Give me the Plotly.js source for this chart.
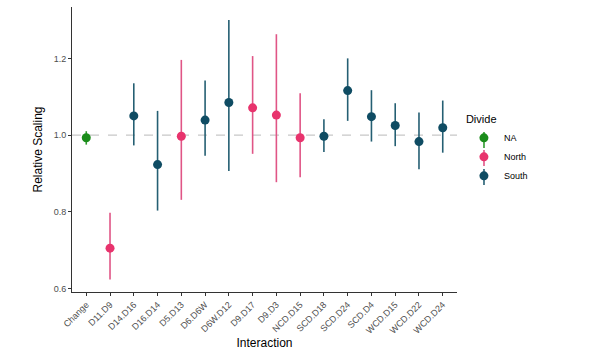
<!DOCTYPE html>
<html>
<head>
<meta charset="utf-8">
<script src="https://cdn.plot.ly/plotly-3.0.1.min.js"></script>
<style>html,body{margin:0;padding:0;background:#fff;}#chart{width:614px;height:350px;}</style>
</head>
<body>
<div id="chart"></div>
<script>
var categories = ["Change","D11.D9","D14.D16","D16.D14","D5.D13","D6.D6W","D6W.D12","D9.D17","D9.D3","NCD.D15","SCD.D18","SCD.D24","SCD.D4","WCD.D15","WCD.D22","WCD.D24"];
var divide = ["NA","North","South","South","North","South","South","North","North","North","South","South","South","South","South","South"];
var estimate = [0.993,0.705,1.050,0.923,0.997,1.039,1.085,1.071,1.052,0.993,0.997,1.116,1.048,1.025,0.983,1.019];
var upper    = [1.010,0.797,1.135,1.063,1.196,1.142,1.300,1.206,1.263,1.109,1.041,1.200,1.117,1.083,1.059,1.090];
var lower    = [0.975,0.623,0.973,0.803,0.831,0.946,0.906,0.951,0.877,0.890,0.956,1.037,0.983,0.971,0.911,0.954];
var groups = ["NA","North","South"];
var colors = {"NA":"#1a8c1a","North":"#e8336d","South":"#0f4c63"};
var barColors = {"NA":"#2e9a2e","North":"#e05586","South":"#255f73"};

var traces = groups.map(function(g){
  var x=[],y=[],ep=[],em=[];
  categories.forEach(function(c,i){
    if(divide[i]===g){x.push(i);y.push(estimate[i]);ep.push(upper[i]-estimate[i]);em.push(estimate[i]-lower[i]);}
  });
  return {
    type:"scatter", mode:"markers", name:g, x:x, y:y,
    marker:{color:colors[g], size:9},
    error_y:{type:"data", symmetric:false, array:ep, arrayminus:em, width:0, thickness:1.6, color:barColors[g]}
  };
});

// legend key vertical strokes (pointrange glyph)
var legendX = 1.0701;
var legendYs = [0.5333,0.4702,0.4035];
var legendShapes = groups.map(function(g,i){
  return {type:"line", xref:"paper", yref:"paper", xsizemode:"pixel", ysizemode:"pixel",
    xanchor:legendX, yanchor:legendYs[i], x0:0, x1:0, y0:-8, y1:8, layer:"above",
    line:{color:barColors[g], width:1.6}};
});

var layout = {
  width:614, height:350,
  margin:{l:72, r:157, t:7, b:58},
  paper_bgcolor:"#fff", plot_bgcolor:"#fff",
  font:{family:"Liberation Sans, Arial, sans-serif", color:"#000"},
  showlegend:true,
  legend:{x:1.018, y:0.642, xanchor:"left", yanchor:"top", bgcolor:"rgba(0,0,0,0)",
    title:{text:"Divide", font:{size:11, color:"#000"}},
    font:{size:9, color:"#000"}, tracegroupgap:4},
  xaxis:{
    range:[-0.6,15.6], tickmode:"array", tickvals:categories.map(function(c,i){return i;}), ticktext:categories,
    tickangle:-45, ticks:"outside", ticklen:3, tickcolor:"#333", tickwidth:1,
    showline:true, linecolor:"#333", linewidth:1, showgrid:false, zeroline:false,
    tickfont:{size:9, color:"#4d4d4d"},
    title:{text:"Interaction", font:{size:12, color:"#000"}, standoff:4}
  },
  yaxis:{
    range:[0.5906,1.334], tickvals:[0.6,0.8,1.0,1.2], ticktext:["0.6","0.8","1.0","1.2"],
    ticks:"outside", ticklen:3, tickcolor:"#333", tickwidth:1,
    showline:true, linecolor:"#333", linewidth:1, showgrid:false, zeroline:false,
    tickfont:{size:9, color:"#4d4d4d"},
    title:{text:"Relative Scaling", font:{size:12, color:"#000"}, standoff:8}
  },
  shapes:[{type:"line", xref:"paper", yref:"y", x0:0, x1:1, y0:1, y1:1, layer:"below",
    line:{color:"#c8c8c8", width:1.2, dash:"dash"}}].concat(legendShapes)
};
Plotly.newPlot("chart", traces, layout, {displayModeBar:false, staticPlot:true});
</script>
</body>
</html>
